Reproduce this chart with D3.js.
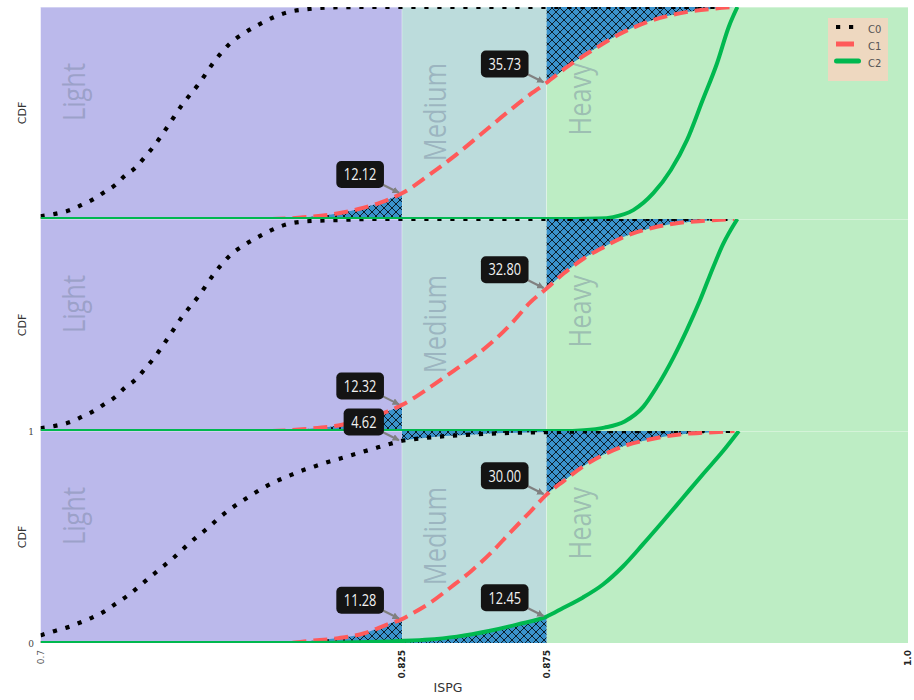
<!DOCTYPE html>
<html>
<head>
<meta charset="utf-8">
<script src="https://cdn.jsdelivr.net/npm/d3@7"></script>
<style>
  body { margin: 0; background: #fff; }
  svg { display: block; }
</style>
</head>
<body>
<svg id="chart" width="914" height="700"></svg>
<script>
// ---- data ----
var regionNames = ["Light", "Medium", "Heavy"];
var regionEdges = [0.7, 0.825, 0.875, 1.0];
var xTickValues = [0.7, 0.825, 0.875, 1.0];
var xTickLabels = ["0.7", "0.825", "0.875", "1.0"];
var seriesNames = ["C0", "C1", "C2"];

// top panel
var top_c0_x = [0.700, 0.705, 0.710, 0.714, 0.718, 0.722, 0.726, 0.729, 0.733, 0.736, 0.739, 0.744, 0.749, 0.755, 0.760, 0.766, 0.770, 0.774, 0.778, 0.782, 0.786, 0.791, 0.796, 0.803, 0.812, 0.940];
var top_c0_y = [0.013, 0.024, 0.041, 0.065, 0.091, 0.126, 0.162, 0.202, 0.244, 0.291, 0.340, 0.437, 0.539, 0.642, 0.741, 0.834, 0.873, 0.906, 0.935, 0.959, 0.977, 0.988, 0.995, 0.999, 1.0, 1.0];
var top_c1_x = [0.700, 0.780, 0.790, 0.800, 0.810, 0.818, 0.825, 0.835, 0.844, 0.852, 0.861, 0.868, 0.875, 0.882, 0.891, 0.900, 0.910, 0.921, 0.932, 0.940];
var top_c1_y = [0.0, 0.0, 0.007, 0.020, 0.047, 0.080, 0.1212, 0.214, 0.306, 0.396, 0.498, 0.574, 0.6427, 0.716, 0.797, 0.870, 0.930, 0.970, 0.991, 1.0];
var top_c2_x = [0.700, 0.885, 0.893, 0.898, 0.905, 0.912, 0.918, 0.9236, 0.929, 0.934, 0.938, 0.941];
var top_c2_y = [0.0, 0.0, 0.002, 0.009, 0.042, 0.123, 0.231, 0.373, 0.561, 0.736, 0.906, 1.0];

// middle panel
var mid_c0_x = [0.700, 0.705, 0.710, 0.714, 0.718, 0.722, 0.726, 0.729, 0.733, 0.736, 0.739, 0.744, 0.749, 0.755, 0.760, 0.766, 0.770, 0.774, 0.778, 0.782, 0.786, 0.791, 0.796, 0.803, 0.815, 0.940];
var mid_c0_y = [0.013, 0.024, 0.041, 0.065, 0.091, 0.126, 0.162, 0.202, 0.244, 0.291, 0.340, 0.437, 0.539, 0.642, 0.741, 0.834, 0.873, 0.906, 0.935, 0.960, 0.978, 0.988, 0.992, 0.995, 1.0, 1.0];
var mid_c1_x = [0.700, 0.780, 0.792, 0.803, 0.813, 0.820, 0.825, 0.835, 0.843, 0.850, 0.857, 0.864, 0.869, 0.875, 0.881, 0.888, 0.895, 0.902, 0.911, 0.920, 0.930, 0.940];
var mid_c1_y = [0.0, 0.0, 0.010, 0.026, 0.060, 0.092, 0.1232, 0.209, 0.285, 0.351, 0.429, 0.524, 0.602, 0.672, 0.744, 0.815, 0.869, 0.917, 0.956, 0.980, 0.992, 1.0];
var mid_c2_x = [0.700, 0.880, 0.888, 0.895, 0.902, 0.9085, 0.913, 0.919, 0.9235, 0.928, 0.9327, 0.936, 0.941];
var mid_c2_y = [0.0, 0.0, 0.004, 0.016, 0.045, 0.115, 0.205, 0.350, 0.476, 0.614, 0.775, 0.880, 1.0];

// bottom panel
var bot_c0_x = [0.700, 0.705, 0.710, 0.714, 0.718, 0.722, 0.726, 0.730, 0.734, 0.738, 0.742, 0.746, 0.750, 0.754, 0.758, 0.762, 0.766, 0.770, 0.774, 0.778, 0.782, 0.786, 0.790, 0.795, 0.800, 0.805, 0.810, 0.815, 0.820, 0.825, 0.830, 0.835, 0.840, 0.850, 0.860, 0.875, 0.900, 0.940];
var bot_c0_y = [0.036, 0.057, 0.077, 0.098, 0.121, 0.148, 0.185, 0.222, 0.266, 0.312, 0.357, 0.402, 0.452, 0.500, 0.544, 0.593, 0.635, 0.672, 0.707, 0.739, 0.766, 0.789, 0.811, 0.834, 0.856, 0.876, 0.896, 0.916, 0.936, 0.9538, 0.963, 0.970, 0.976, 0.984, 0.990, 0.995, 0.999, 1.0];
var bot_c1_x = [0.700, 0.785, 0.794, 0.803, 0.812, 0.820, 0.825, 0.828, 0.835, 0.842, 0.849, 0.856, 0.862, 0.869, 0.875, 0.881, 0.888, 0.895, 0.902, 0.911, 0.921, 0.931, 0.940];
var bot_c1_y = [0.0, 0.0, 0.011, 0.023, 0.046, 0.088, 0.1128, 0.135, 0.192, 0.264, 0.340, 0.428, 0.515, 0.614, 0.700, 0.765, 0.836, 0.890, 0.930, 0.961, 0.984, 0.993, 1.0];
var bot_c2_x = [0.700, 0.790, 0.805, 0.820, 0.833, 0.844, 0.8555, 0.865, 0.875, 0.8807, 0.8876, 0.8945, 0.9014, 0.9083, 0.9152, 0.9221, 0.9290, 0.9359, 0.9415];
var bot_c2_y = [0.0, 0.0, 0.002, 0.007, 0.015, 0.030, 0.058, 0.088, 0.1245, 0.165, 0.215, 0.276, 0.361, 0.465, 0.573, 0.684, 0.795, 0.903, 1.0];

// misclassification annotations (percent of a class outside its own region)
var labelPanel = [0, 0, 1, 1, 2, 2, 2, 2];
var labelSeries = [1, 1, 1, 1, 0, 1, 1, 2];
var labelEdge = [0.825, 0.875, 0.825, 0.875, 0.825, 0.825, 0.875, 0.875];
var labelPct = [12.12, 35.73, 12.32, 32.80, 4.62, 11.28, 30.00, 12.45];

// ---- styles ----
var regionColors = ["#bbb9eb", "#bcdcdc", "#bdedc4"];
var seriesColors = ["#000000", "#ff5a5a", "#00b84f"];
var seriesWidths = [4.2, 4, 4];
var seriesDash = ["4.2,8.8", "14,7", null];
var hatchColor = "#3a92cc";

var panels = [
    [[top_c0_x, top_c0_y], [top_c1_x, top_c1_y], [top_c2_x, top_c2_y]],
    [[mid_c0_x, mid_c0_y], [mid_c1_x, mid_c1_y], [mid_c2_x, mid_c2_y]],
    [[bot_c0_x, bot_c0_y], [bot_c1_x, bot_c1_y], [bot_c2_x, bot_c2_y]]
];

var svg = d3.select("#chart");
var plotLeft = 40.5, plotRight = 908, plotTop = 7, plotBottom = 643;
var panelH = (plotBottom - plotTop) / panels.length;

var x = d3.scaleLinear().domain([0.7, 1.0]).range([plotLeft, plotRight]);

var defs = svg.append("defs");
var pat = defs.append("pattern")
    .attr("id", "hatch")
    .attr("patternUnits", "userSpaceOnUse")
    .attr("width", 8).attr("height", 8);
pat.append("rect").attr("width", 8).attr("height", 8).attr("fill", hatchColor);
pat.append("path")
    .attr("d", "M-1,-1L9,9M-1,9L9,-1")
    .attr("stroke", "#000").attr("stroke-width", 0.8);

defs.append("marker")
    .attr("id", "arrowhead")
    .attr("viewBox", "0 0 10 10")
    .attr("refX", 9).attr("refY", 5)
    .attr("markerWidth", 3.2).attr("markerHeight", 3.2)
    .attr("markerUnits", "strokeWidth")
    .attr("orient", "auto")
    .append("path").attr("d", "M0,0L10,5L0,10z").attr("fill", "#808080");

function seriesPoints(d) {
    return d[0].map(function(v, i) { return [v, d[1][i]]; });
}

panels.forEach(function(panel, p) {
    var top = plotTop + p * panelH;
    var y = d3.scaleLinear().domain([0, 1]).range([top + panelH, top]);

    var clipId = "clip" + p;
    defs.append("clipPath").attr("id", clipId)
        .append("rect")
        .attr("x", plotLeft).attr("y", top)
        .attr("width", plotRight - plotLeft).attr("height", panelH);

    var g = svg.append("g").attr("clip-path", "url(#" + clipId + ")");

    // region backgrounds
    g.selectAll("rect.region").data(regionNames).enter().append("rect")
        .attr("class", "region")
        .attr("x", function(d, i) { return x(regionEdges[i]); })
        .attr("y", top)
        .attr("width", function(d, i) { return x(regionEdges[i + 1]) - x(regionEdges[i]); })
        .attr("height", panelH)
        .attr("fill", function(d, i) { return regionColors[i]; });

    // faint separators
    [0.825, 0.875].forEach(function(b) {
        g.append("line")
            .attr("x1", x(b)).attr("x2", x(b))
            .attr("y1", top).attr("y2", top + panelH)
            .attr("stroke", "#fff").attr("stroke-opacity", 0.35).attr("stroke-width", 1);
    });
    g.append("line")
        .attr("x1", plotLeft).attr("x2", plotRight)
        .attr("y1", top + 0.5).attr("y2", top + 0.5)
        .attr("stroke", "#fff").attr("stroke-opacity", 0.35).attr("stroke-width", 1);

    // region names (narrowed to match the condensed face of the original)
    regionNames.forEach(function(name, i) {
        g.append("text")
            .attr("transform", "translate(" + (x(regionEdges[i]) + 44) + "," + (top + 56) + ") rotate(-90) scale(0.82,1)")
            .attr("text-anchor", "end")
            .style("font-family", "'Open Sans', sans-serif")
            .style("font-size", "31px")
            .style("fill", "#6f7e98")
            .style("fill-opacity", 0.42)
            .text(name);
    });

    // hatched misclassified areas
    panel.forEach(function(d, s) {
        var pts = seriesPoints(d);
        var lo = regionEdges[s], hi = regionEdges[s + 1];
        if (lo > regionEdges[0]) {
            var cid = "lo" + p + "_" + s;
            defs.append("clipPath").attr("id", cid).append("rect")
                .attr("x", plotLeft).attr("y", top)
                .attr("width", x(lo) - plotLeft).attr("height", panelH);
            g.append("path")
                .attr("clip-path", "url(#" + cid + ")")
                .attr("d", d3.area()
                    .x(function(q) { return x(q[0]); })
                    .y0(y(0))
                    .y1(function(q) { return y(q[1]); })
                    .curve(d3.curveMonotoneX)(pts))
                .attr("fill", "url(#hatch)");
        }
        if (hi < regionEdges[regionEdges.length - 1]) {
            var cid2 = "hi" + p + "_" + s;
            defs.append("clipPath").attr("id", cid2).append("rect")
                .attr("x", x(hi)).attr("y", top)
                .attr("width", plotRight - x(hi)).attr("height", panelH);
            g.append("path")
                .attr("clip-path", "url(#" + cid2 + ")")
                .attr("d", d3.area()
                    .x(function(q) { return x(q[0]); })
                    .y0(y(1))
                    .y1(function(q) { return y(q[1]); })
                    .curve(d3.curveMonotoneX)(pts))
                .attr("fill", "url(#hatch)");
        }
    });

    // CDF lines
    var line = d3.line()
        .x(function(q) { return x(q[0]); })
        .y(function(q) { return y(q[1]); })
        .curve(d3.curveMonotoneX);
    panel.forEach(function(d, s) {
        g.append("path")
            .attr("d", line(seriesPoints(d)))
            .attr("fill", "none")
            .attr("stroke", seriesColors[s])
            .attr("stroke-width", seriesWidths[s])
            .attr("stroke-dasharray", seriesDash[s])
            .attr("stroke-linecap", "butt");
    });

    // y label
    svg.append("text")
        .attr("transform", "translate(26," + (top + panelH / 2) + ") rotate(-90)")
        .attr("text-anchor", "middle")
        .style("font-family", "'DejaVu Sans', sans-serif")
        .style("font-size", "11px")
        .style("fill", "#333")
        .text("CDF");
});

// y tick labels (only on the lowest panel, as in the original)
var yBottom = d3.scaleLinear().domain([0, 1]).range([plotBottom, plotBottom - panelH]);
[0, 1].forEach(function(v) {
    svg.append("text")
        .attr("x", 34).attr("y", yBottom(v) + 3.5)
        .attr("text-anchor", "end")
        .style("font-family", "'DejaVu Serif', serif")
        .style("font-size", "9px")
        .style("fill", "#444")
        .text(v);
});

// x tick labels
xTickValues.forEach(function(v, i) {
    svg.append("text")
        .attr("transform", "translate(" + (x(v) + 3.3) + ",650) rotate(-90)")
        .attr("text-anchor", "end")
        .style("font-family", "'DejaVu Sans', sans-serif")
        .style("font-size", "9px")
        .style("font-weight", i === 0 ? "normal" : "bold")
        .style("fill", i === 0 ? "#555" : "#222")
        .text(xTickLabels[i]);
});

svg.append("text")
    .attr("x", 448).attr("y", 692)
    .attr("text-anchor", "middle")
    .style("font-family", "'DejaVu Sans', sans-serif")
    .style("font-size", "12.5px")
    .style("fill", "#333")
    .text("ISPG");

// annotations
labelPct.forEach(function(pct, k) {
    var p = labelPanel[k], s = labelSeries[k], edge = labelEdge[k];
    var top = plotTop + p * panelH;
    var y = d3.scaleLinear().domain([0, 1]).range([top + panelH, top]);
    var v = edge <= regionEdges[s] ? pct / 100 : 1 - pct / 100;
    var px = x(edge), py = y(v);

    svg.append("line")
        .attr("x1", px - 19).attr("y1", py - 8.5)
        .attr("x2", px - 3).attr("y2", py - 0.5)
        .attr("stroke", "#808080").attr("stroke-width", 2.2)
        .attr("marker-end", "url(#arrowhead)");

    var squeeze = 0.8;
    var lg = svg.append("g");
    var rect = lg.append("rect").attr("fill", "#141414").attr("rx", 5).attr("ry", 5);
    var txt = lg.append("text")
        .attr("text-anchor", "middle")
        .style("font-family", "'Open Sans', sans-serif")
        .style("font-size", "16px")
        .style("fill", "#f2f2f2")
        .text(d3.format(".2f")(pct));
    var tw = txt.node().getComputedTextLength() * squeeze;
    var bw = tw + 15, bh = 27;
    var right = px - 18, cy = py - 18.8;
    rect.attr("x", right - bw).attr("y", cy - bh / 2).attr("width", bw).attr("height", bh);
    txt.attr("transform", "translate(" + (right - bw / 2) + "," + (cy + 5.7) + ") scale(" + squeeze + ",1)");
});

// legend
var leg = svg.append("g");
leg.append("rect")
    .attr("x", 828).attr("y", 18).attr("width", 60).attr("height", 63)
    .attr("fill", "#eed8c0");
seriesNames.forEach(function(name, s) {
    var ly = 27 + s * 17;
    var x1 = s === 2 ? 836.5 : 836, x2 = s === 0 ? 857 : (s === 1 ? 854 : 858.5);
    leg.append("line")
        .attr("x1", x1).attr("x2", x2).attr("y1", ly).attr("y2", ly)
        .attr("stroke", seriesColors[s])
        .attr("stroke-width", s === 0 ? 4.2 : 5)
        .attr("stroke-dasharray", s === 0 ? seriesDash[0] : null)
        .attr("stroke-linecap", s === 2 ? "round" : "butt");
    leg.append("text")
        .attr("x", 868).attr("y", ly + 5.5)
        .style("font-family", "'DejaVu Sans', sans-serif")
        .style("font-size", "10px")
        .style("fill", "#555")
        .text(name);
});
</script>
</body>
</html>
